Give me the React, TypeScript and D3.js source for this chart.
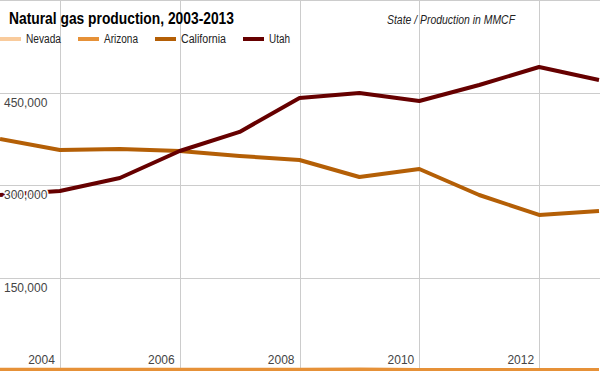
import React from "react";
import * as d3 from "d3";

const years = [2003, 2004, 2005, 2006, 2007, 2008, 2009, 2010, 2011, 2012, 2013];
const nevada = [5, 4, 4, 3, 3, 3, 4, 3, 3, 3, 3];
const arizona = [400, 300, 350, 500, 600, 500, 700, 200, 100, 100, 100];
const california = [374600, 356800, 358400, 355100, 347000, 340500, 313000, 326000, 283800, 251400, 257800];
const utah = [283800, 290300, 311400, 355100, 386000, 441100, 449200, 436200, 462200, 491400, 470300];
const seriesNames = ["Nevada", "Arizona", "California", "Utah"];
const seriesColors = ["#f9cb9c", "#e69138", "#b45f06", "#660000"];
const yTicks = [150000, 300000, 450000, 600000];
const xTicks = [2004, 2006, 2008, 2010, 2012];

const W = 600;
const H = 371;

export default function App() {
  const x = d3.scaleLinear().domain([2003, 2013]).range([0, 599]);
  const y = d3.scaleLinear().domain([0, 600000]).range([370, 0]);
  const allSeries = [nevada, arizona, california, utah];
  const line = d3
    .line<number>()
    .x((_, i) => x(years[i]))
    .y((d) => y(d));
  const fmt = d3.format(",");
  const legendX = [0, 78, 155, 243];
  const legendTextW = [35, 34, 45, 21];
  const font = "Arial, 'Liberation Sans', sans-serif";
  return (
    <svg
      width={W}
      height={H}
      style={{ position: "absolute", left: 0, top: 0, background: "#fff" }}
      fontFamily={font}
    >
      <rect x={0} y={0} width={W} height={H} fill="#fff" />
      {yTicks.map((t) => (
        <line key={"h" + t} x1={0} x2={W} y1={Math.round(y(t)) + 0.5} y2={Math.round(y(t)) + 0.5} stroke="#cccccc" strokeWidth={1} />
      ))}
      {xTicks.map((t) => (
        <line key={"v" + t} x1={Math.round(x(t)) + 0.5} x2={Math.round(x(t)) + 0.5} y1={0} y2={H} stroke="#cccccc" strokeWidth={1} />
      ))}
      {allSeries.map((s, i) => (
        <path key={"s" + i} d={line(s) || ""} fill="none" stroke={seriesColors[i]} strokeWidth={4} strokeLinejoin="round" />
      ))}
      {yTicks
        .filter((t) => t < 600000)
        .map((t) => (
          <text
            key={"yl" + t}
            x={4}
            y={y(t) + 14}
            fontSize={12}
            fill="#444"
            stroke="#fff"
            strokeWidth={3}
            strokeLinejoin="round"
            style={{ paintOrder: "stroke" }}
          >
            {fmt(t)}
          </text>
        ))}
      {xTicks.map((t) => (
        <text
          key={"xl" + t}
          x={x(t) - 5}
          y={364}
          fontSize={12}
          fill="#444"
          textAnchor="end"
          stroke="#fff"
          strokeWidth={3}
          strokeLinejoin="round"
          style={{ paintOrder: "stroke" }}
        >
          {t}
        </text>
      ))}
      <text x={9} y={24} fontSize={17} fontWeight="bold" fill="#000" textLength={225} lengthAdjust="spacingAndGlyphs">
        Natural gas production, 2003-2013
      </text>
      <text x={387} y={24} fontSize={12} fontStyle="italic" fill="#222" textLength={128} lengthAdjust="spacingAndGlyphs">
        State / Production in MMCF
      </text>
      {seriesNames.map((n, i) => (
        <g key={"lg" + i}>
          <line x1={legendX[i]} x2={legendX[i] + 21} y1={39} y2={39} stroke={seriesColors[i]} strokeWidth={4} />
          <text x={legendX[i] + 26} y={43} fontSize={12} fill="#222" textLength={legendTextW[i]} lengthAdjust="spacingAndGlyphs">
            {n}
          </text>
        </g>
      ))}
    </svg>
  );
}
